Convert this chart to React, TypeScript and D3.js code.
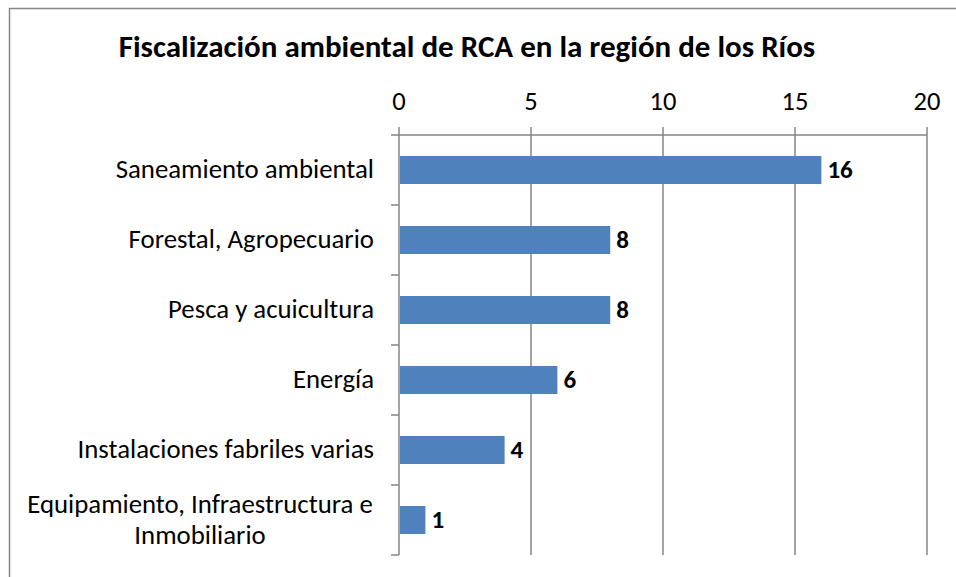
import React from "react";
import * as d3 from "d3";

const categories = [
  "Saneamiento ambiental",
  "Forestal, Agropecuario",
  "Pesca y acuicultura",
  "Energía",
  "Instalaciones fabriles varias",
  "Equipamiento, Infraestructura e Inmobiliario",
];
const categoryLines = [
  ["Saneamiento ambiental"],
  ["Forestal, Agropecuario"],
  ["Pesca y acuicultura"],
  ["Energía"],
  ["Instalaciones fabriles varias"],
  ["Equipamiento, Infraestructura e", "Inmobiliario"],
];
const values = [16, 8, 8, 6, 4, 1];
const xTicks = [0, 5, 10, 15, 20];
const title = "Fiscalización ambiental de RCA en la región de los Ríos";

const W = 956;
const H = 577;
const FONT = "Carlito, Calibri, Lato, 'Open Sans', sans-serif";

export default function App() {
  const left = 399, right = 927, top = 135, bottom = 555;
  const x = d3.scaleLinear().domain([0, 20]).range([left, right]);
  const y = d3.scaleBand<string>().domain(categories).range([top, bottom]).paddingInner(0.6).paddingOuter(0.3);
  const step = y.step();
  const grid = "#868686";

  return (
    <svg width={W} height={H} style={{ position: "absolute", left: 0, top: 0, background: "#fff" }} fontFamily={FONT}>
      <rect x={0} y={0} width={W} height={H} fill="#fff" />
      <path d={`M9.5,${H} V8.5 H${W}`} fill="none" stroke="#868686" strokeWidth={1.5} />
      <text x={467} y={57} textAnchor="middle" fontSize={31} fontWeight="bold" fill="#000">{title}</text>
      {xTicks.map((t) => (
        <g key={t}>
          <line x1={x(t)} x2={x(t)} y1={top - 8} y2={bottom} stroke={grid} strokeWidth={1.5} />
          <text x={x(t)} y={110} textAnchor="middle" fontSize={26.5} fill="#000">{t}</text>
        </g>
      ))}
      <line x1={left} x2={right} y1={top} y2={top} stroke={grid} strokeWidth={1.5} />
      {d3.range(categories.length + 1).map((i) => (
        <line key={i} x1={left - 8} x2={left} y1={top + i * step} y2={top + i * step} stroke={grid} strokeWidth={1.5} />
      ))}
      {categories.map((c, i) => {
        const yy = y(c)!;
        const bh = y.bandwidth();
        const cy = yy + bh / 2;
        const lines = categoryLines[i];
        const multi = lines.length > 1;
        return (
          <g key={c}>
            <rect x={x(0) + 1} y={yy} width={x(values[i]) - x(0) - 1} height={bh} fill="#4F81BD" />
            <text x={x(values[i]) + 6} y={cy + 8} fontSize={25} fontWeight="bold" fill="#000">{values[i]}</text>
            {lines.map((l, j) => (
              <text key={j} x={multi ? 200 : 374} y={cy + 8 + (j - (lines.length - 1) / 2) * 31} textAnchor={multi ? "middle" : "end"} fontSize={26.8} fill="#000">{l}</text>
            ))}
          </g>
        );
      })}
    </svg>
  );
}
